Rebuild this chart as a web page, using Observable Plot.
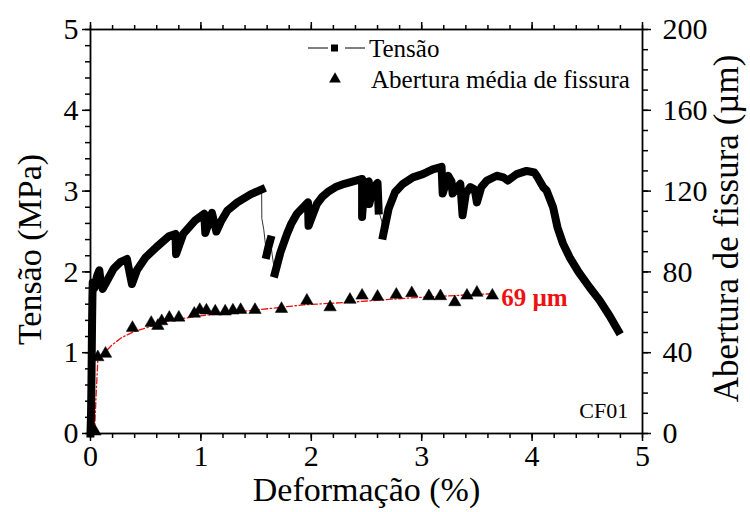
<!DOCTYPE html>
<html>
<head>
<meta charset="utf-8">
<script src="https://cdn.jsdelivr.net/npm/d3@7"></script>
<script src="https://cdn.jsdelivr.net/npm/@observablehq/plot@0.6"></script>
<style>
  html, body { margin: 0; padding: 0; background: #fff; }
  #chart { width: 750px; height: 512px; }
</style>
</head>
<body>
<div id="chart"></div>
<script>
// ---- tick labels ----
const xTicks = [0, 1, 2, 3, 4, 5];
const yTicks = [0, 1, 2, 3, 4, 5];          // Tensão (MPa)
const umTicks = [0, 40, 80, 120, 160, 200];  // Abertura (µm)
const umMax = 200, yMax = 5;

// ---- stress curve (Deformação %, Tensão MPa); seg = thick piece, "t" = thin connector only ----
const stressX = [0,0.005,0.008,0.011,0.014,0.017,0.02,0.035,0.06,0.08,0.09,0.11,0.15,0.21,0.27,0.33,0.35,0.375,0.42,0.50,0.60,0.71,0.77,0.775,0.84,0.95,1.03,1.04,1.10,1.14,1.18,1.24,1.33,1.45,1.55,
  1.552,1.57,
  1.595,1.61,1.63,
  1.645,
  1.67,1.72,1.78,1.82,1.87,1.97,1.975,2.05,2.10,2.15,2.22,2.30,2.38,2.46,2.46,2.48,2.52,2.525,2.56,2.60,2.61,
  2.64,
  2.65,2.70,2.76,2.83,2.92,3.01,3.10,3.18,3.19,3.24,3.27,3.28,3.35,3.37,3.40,3.44,3.48,3.50,3.54,3.59,3.68,3.74,3.78,3.86,3.95,4.02,4.05,4.10,4.13,4.19,4.23,4.28,4.34,4.42,4.52,4.61,4.70,4.78];
const stressY = [0,0.25,0.55,0.95,1.35,1.65,1.87,1.80,1.95,2.02,1.90,1.79,1.89,2.04,2.12,2.16,2.02,1.85,2.02,2.18,2.31,2.44,2.47,2.22,2.47,2.64,2.72,2.48,2.73,2.50,2.62,2.76,2.86,2.96,3.02,
  2.66,2.52,
  2.21,2.30,2.40,
  2.22,
  1.98,2.24,2.47,2.60,2.72,2.86,2.57,2.84,2.93,2.99,3.05,3.09,3.12,3.15,2.68,3.10,3.12,2.84,3.04,3.10,2.76,
  2.62,
  2.45,2.78,2.99,3.09,3.17,3.21,3.27,3.30,2.97,3.19,3.12,2.97,3.09,2.70,2.97,3.05,3.02,2.86,3.05,3.13,3.19,3.17,3.13,3.21,3.25,3.23,3.17,3.05,3.01,2.80,2.55,2.35,2.18,2.00,1.81,1.65,1.46,1.27];
const stressSeg = [...Array(35).fill("a"), "t","t", "b","b","b", "t",
  ...Array(21).fill("c"), "t", ...Array(39).fill("d")];

// ---- average crack opening (Deformação %, µm) ----
const triX = [0.04,0.066,0.136,0.38,0.55,0.61,0.645,0.714,0.80,0.94,0.99,1.05,1.13,1.22,1.29,1.36,1.49,1.73,1.96,2.17,2.35,2.46,2.60,2.77,2.91,3.065,3.17,3.30,3.41,3.50,3.64];
const triUm = [1,37.8,39.5,52.3,54.8,53.3,55.6,57.3,57.4,59.3,61.2,60.9,60.4,60.4,60.9,61.2,61.2,61.7,65.8,62.5,66.2,68.3,67.7,68.7,69.5,68.0,68.0,65.0,68.3,69.7,68.3];

// ---- red fitted trend (Deformação %, µm) ----
const fitX = [0.036,0.05,0.066,0.11,0.19,0.28,0.38,0.52,0.70,0.94,1.21,1.51,1.93,2.36,2.66,2.95,3.30,3.64];
const fitUm = [0,18,36,39,43.6,47.4,50.1,52.6,55.6,57.9,59.6,61.2,63.7,65.0,66.2,67.3,68.3,69.2];

// ---- annotations ----
const annoText = ["69 µm", "CF01"];
const annoX = [3.72, 4.87];
const annoY = [1.68, 0.28];

// ---- build tables ----
const stress = stressX.map((x, i) => ({x, y: stressY[i], seg: stressSeg[i]}));
const thick = stress.filter(d => d.seg !== "t");
const tri = triX.map((x, i) => ({x, um: triUm[i]}));
const fit = fitX.map((x, i) => ({x, um: fitUm[i]}));
const umToY = d => d.um * yMax / umMax;
const minor = (a, b, s) => d3.range(0, Math.round((b - a) / s) + 1).map(i => +(a + i * s).toFixed(4));

const FONT = "'Liberation Serif', 'Times New Roman', serif";

const svg = Plot.plot({
  width: 750,
  height: 512,
  marginLeft: 90,
  marginRight: 108,
  marginTop: 29,
  marginBottom: 79,
  style: {fontFamily: FONT, background: "#fff", color: "#000", overflow: "visible"},
  x: {domain: [0, 5]},
  y: {domain: [0, 5]},
  marks: [
    // minor ticks
    Plot.axisX({ticks: minor(0, 5, 0.2), anchor: "bottom", tickSize: 5, text: null, strokeWidth: 1.5, label: null}),
    Plot.axisX({ticks: minor(0, 5, 0.2), anchor: "top", tickSize: 5, text: null, strokeWidth: 1.5, label: null}),
    Plot.axisY({ticks: minor(0, 5, 0.2), anchor: "left", tickSize: 5, text: null, strokeWidth: 1.5, label: null}),
    Plot.axisY({ticks: minor(0, 5, 0.25), anchor: "right", tickSize: 5, text: null, strokeWidth: 1.5, label: null}),
    // major ticks
    Plot.axisX({ticks: xTicks, anchor: "bottom", tickSize: 8, tickPadding: 3, fontSize: 30, strokeWidth: 1.5, label: null,
      tickFormat: v => String(v)}),
    Plot.axisX({ticks: xTicks, anchor: "top", tickSize: 8, text: null, strokeWidth: 1.5, label: null}),
    Plot.axisY({ticks: yTicks, anchor: "left", tickSize: 8, tickPadding: 4, fontSize: 30, strokeWidth: 1.5, label: null,
      tickFormat: v => String(v)}),
    Plot.axisY({ticks: umTicks.map(v => v * yMax / umMax), anchor: "right", tickSize: 8, tickPadding: 12, fontSize: 30,
      tickFormat: v => String(Math.round(v * umMax / yMax)), strokeWidth: 1.5, label: null}),
    Plot.frame({stroke: "#000", strokeWidth: 1.8}),
    // red fit curve
    Plot.line(fit, {x: "x", y: umToY, stroke: "#ee1111", strokeWidth: 1.3, strokeDasharray: "6,2.5,1.5,2.5"}),
    // thin connector through all stress points
    Plot.line(stress, {x: "x", y: "y", stroke: "#333", strokeWidth: 1}),
    // thick stress curve (dense square markers)
    Plot.line(thick, {x: "x", y: "y", z: "seg", stroke: "#000", strokeWidth: 8, strokeLinejoin: "round", strokeLinecap: "square"}),
    // triangles
    Plot.dot(tri, {x: "x", y: umToY, symbol: "triangle", r: 4.6, fill: "#000", stroke: "#000", strokeWidth: 0.5}),
    // annotations
    Plot.text([0], {x: () => annoX[0], y: () => annoY[0], text: () => annoText[0], textAnchor: "start", fill: "#ee1111", fontWeight: "bold", fontSize: 25}),
    Plot.text([0], {x: () => annoX[1], y: () => annoY[1], text: () => annoText[1], textAnchor: "end", fill: "#000", fontSize: 22}),
    // axis titles
    Plot.text(["Tensão (MPa)"], {frameAnchor: "left", dx: -60, dy: 18, rotate: -90, textAnchor: "middle", text: d => d, fontSize: 34, fill: "#000"}),
    Plot.text(["Abertura de fissura (µm)"], {frameAnchor: "right", dx: 84, dy: -3, rotate: -90, textAnchor: "middle", text: d => d, fontSize: 35, fill: "#000"}),
    Plot.text(["Deformação (%)"], {frameAnchor: "bottom", dy: 67, textAnchor: "middle", text: d => d, fontSize: 34, fill: "#000"})
  ]
});

// legend (inside the frame, top right)
const g = d3.select(svg).append("g").attr("font-family", FONT).attr("text-anchor", "start").attr("fill", "#000");
g.append("line").attr("x1", 308).attr("x2", 328).attr("y1", 48).attr("y2", 48).attr("stroke", "#000").attr("stroke-width", 1);
g.append("rect").attr("x", 331).attr("y", 44.5).attr("width", 7).attr("height", 7).attr("fill", "#000");
g.append("line").attr("x1", 345).attr("x2", 365).attr("y1", 48).attr("y2", 48).attr("stroke", "#000").attr("stroke-width", 1);
g.append("text").attr("x", 369).attr("y", 48).attr("dy", "0.35em").attr("font-size", 25).text("Tensão");
g.append("path").attr("d", d3.symbol(d3.symbolTriangle, 60)()).attr("transform", "translate(335,79)").attr("fill", "#000");
g.append("text").attr("x", 371).attr("y", 79).attr("dy", "0.35em").attr("font-size", 25).text("Abertura média de fissura");

document.getElementById("chart").appendChild(svg);
</script>
</body>
</html>
